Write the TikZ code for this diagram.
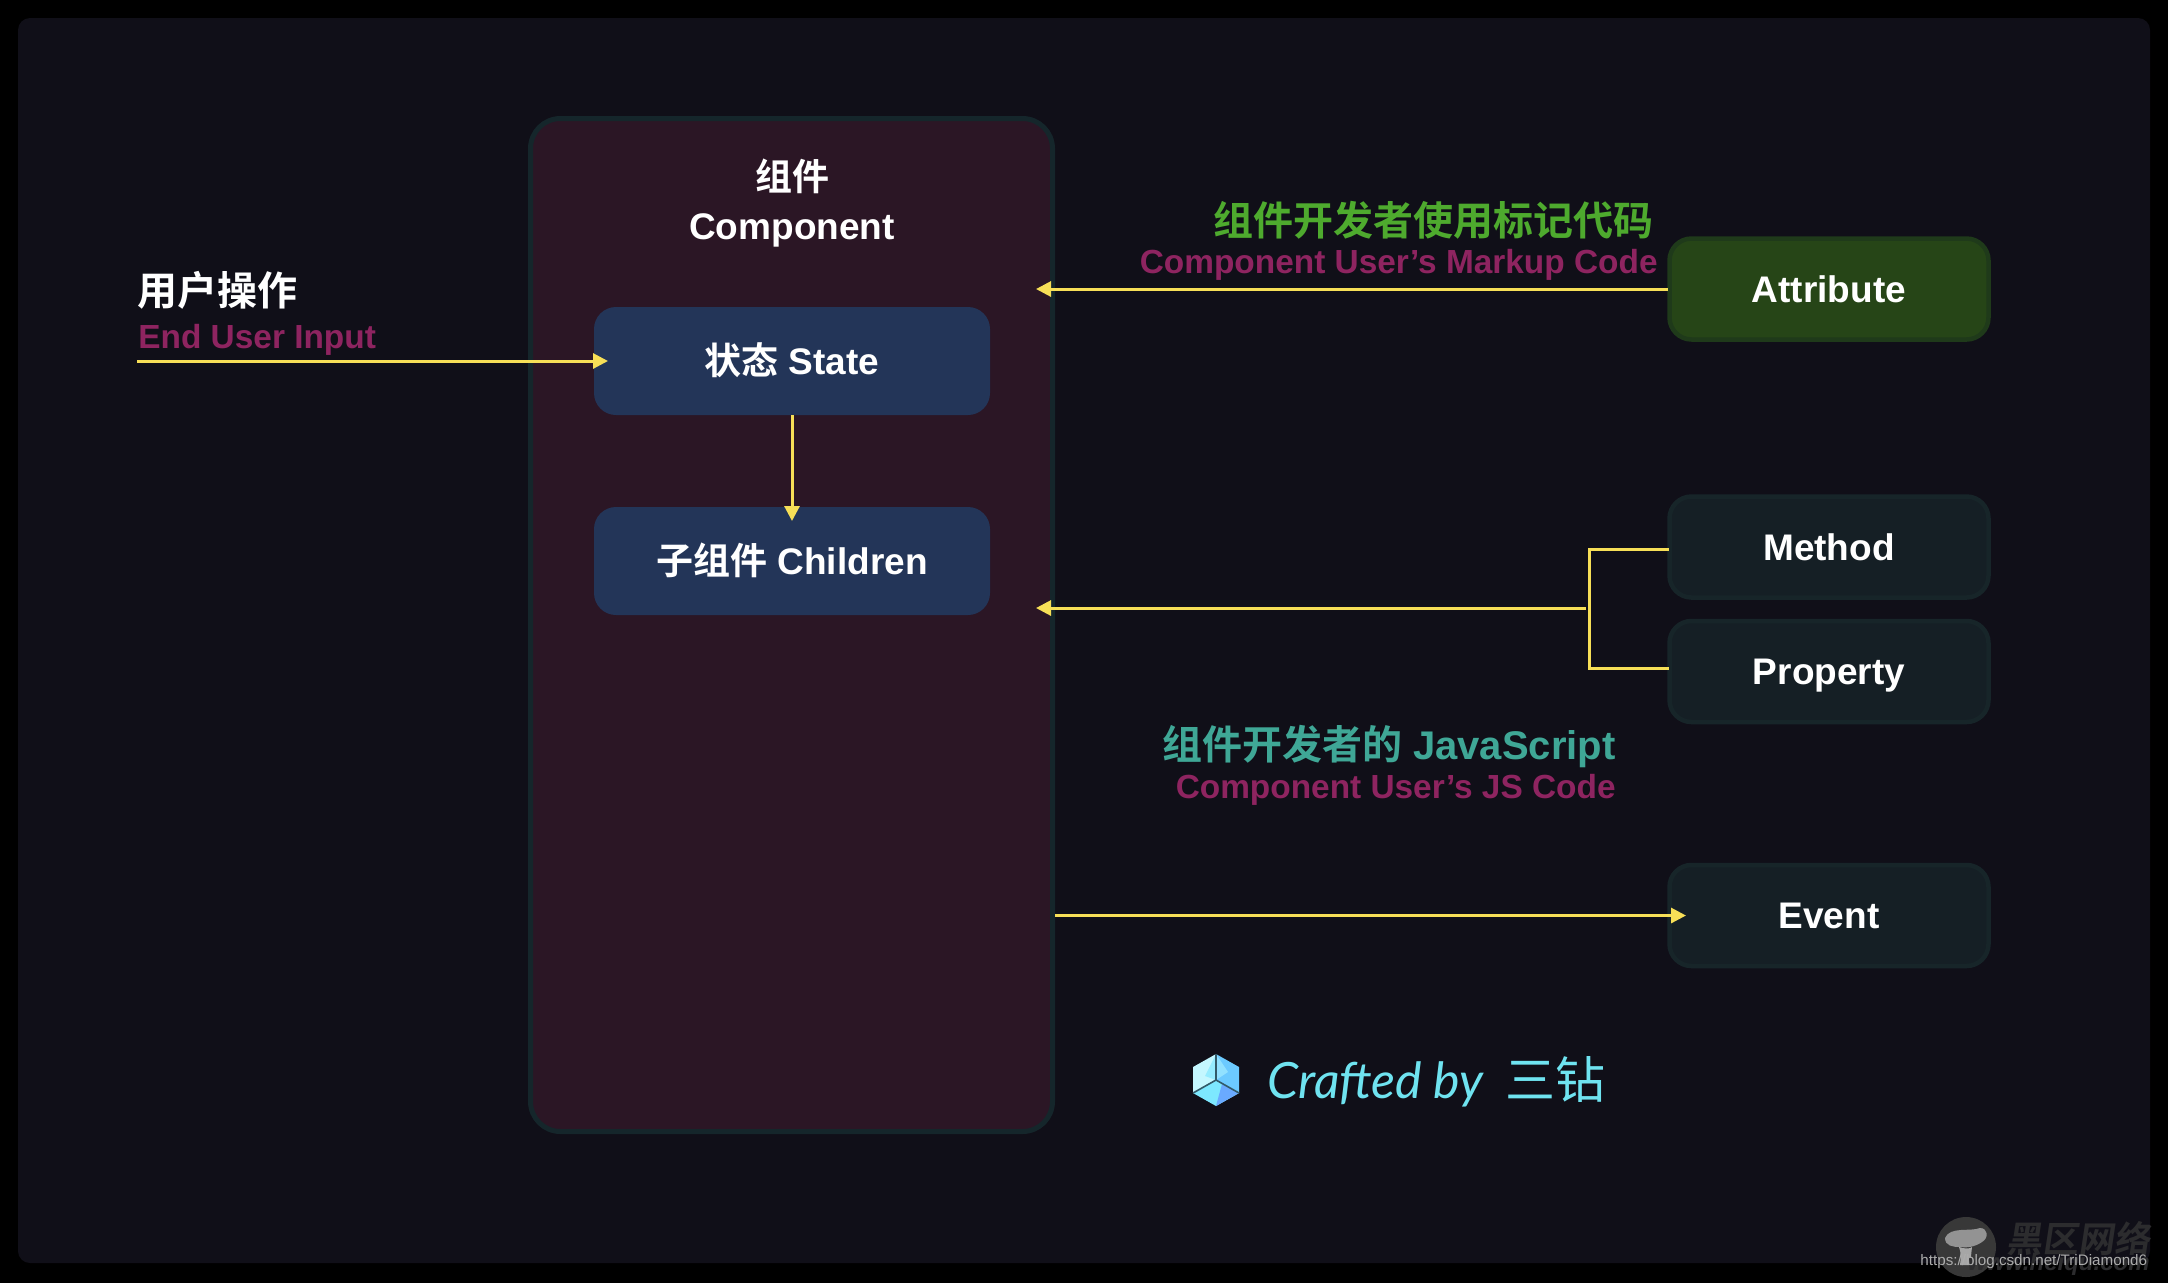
\documentclass[tikz,border=0pt]{standalone}
\usepackage{fontspec}
\setmainfont{Liberation Sans}
\newfontfamily\cjk{Noto Sans CJK SC}[BoldFont={Noto Sans CJK SC Bold}]
\newfontfamily\hand{Lato}
\usetikzlibrary{arrows.meta}
\definecolor{pagebg}{HTML}{000000}
\definecolor{panelbg}{HTML}{100F18}
\definecolor{compfill}{HTML}{2B1625}
\definecolor{compline}{HTML}{15262B}
\definecolor{bluefill}{HTML}{233558}
\definecolor{darkfill}{HTML}{151F25}
\definecolor{darkline}{HTML}{172529}
\definecolor{greenfill}{HTML}{264517}
\definecolor{greenline}{HTML}{1F3A1A}
\definecolor{wire}{HTML}{F7DF57}
\definecolor{crimson}{HTML}{8E2460}
\definecolor{leaf}{HTML}{4EAA2E}
\definecolor{teal2}{HTML}{3FA796}
\definecolor{sky}{HTML}{6FE3F0}
\definecolor{wmdark}{HTML}{2C2C2E}
\tikzset{
  wirearrow/.style={draw=wire,line width=1.5pt,-{Triangle[length=7.5pt,width=7.5pt]}},
  wireline/.style={draw=wire,line width=1.5pt},
  sidebox/.style={rounded corners=11pt,line width=2.25pt,draw=darkline,fill=darkfill,
    minimum width=159.5pt,minimum height=50.5pt,inner sep=0pt,text=white,text height=13.3pt,text depth=0pt,
    font=\fontsize{18.5}{22}\selectfont\bfseries},
  innerbox/.style={rounded corners=11pt,draw=none,fill=bluefill,minimum width=198pt,minimum height=54pt,
    inner sep=0pt,text=white,text height=13.3pt,text depth=0pt,font=\fontsize{18.5}{22}\selectfont\bfseries},
  title/.style={inner sep=0pt,text=white,font=\bfseries},
  crim/.style={inner sep=0pt,text=crimson,font=\fontsize{16.7}{21}\selectfont\bfseries},
}
\begin{document}
\begin{tikzpicture}[x=0.5pt,y=-0.5pt]
\useasboundingbox (0,0) rectangle (2168,1282);
\fill[pagebg] (-10,-10) rectangle (2178,1292);
\fill[panelbg,rounded corners=6pt] (18,18) rectangle (2150,1263);
% main box
\node[rounded corners=15pt,line width=2.5pt,draw=compline,fill=compfill,minimum width=261pt,minimum height=506.5pt,inner sep=0pt] (comp) at (791.5,625) {};
\node[title,align=center,font=\fontsize{18.5}{24.5}\selectfont\bfseries] (comptitle) at (792,203) {{\cjk 组件}\\[0pt]Component};
\node[innerbox] (state) at (792,361) {{\cjk 状态} State};
\node[innerbox] (kids) at (792,561) {{\cjk 子组件} Children};
\node[sidebox,draw=greenline,fill=greenfill] (attr) at (1829,289) {Attribute};
\node[sidebox] (method) at (1829,547) {Method};
\node[sidebox] (prop) at (1829,671.5) {Property};
\node[sidebox] (event) at (1829,915.5) {Event};
% labels
\node[title,anchor=west,font=\fontsize{20}{24}\selectfont\bfseries\cjk] (userzh) at (137,290) {用户操作};
\node[crim,anchor=west] (useren) at (138,340) {End User Input};
\node[inner sep=0pt,anchor=east,text=leaf,font=\fontsize{20}{24}\selectfont\bfseries\cjk] (markupzh) at (1654,220) {组件开发者使用标记代码};
\node[crim,anchor=east] (markupen) at (1658,265) {Component User’s Markup Code};
\node[inner sep=0pt,anchor=east,text=teal2,font=\fontsize{20}{24}\selectfont\bfseries] (jszh) at (1616,746) {{\cjk 组件开发者的} JavaScript};
\node[crim,anchor=east] (jsen) at (1616,790) {Component User’s JS Code};
% connectors
\coordinate (userstart) at (137,361);
\coordinate (attrtip) at (1036,289);
\coordinate (attrout) at (1668,289);
\coordinate (jstip) at (1036,608);
\coordinate (jsjoin) at (1586,608);
\coordinate (bracktop) at (1589,549);
\coordinate (brackbot) at (1589,668);
\coordinate (methodin) at (1667,549);
\coordinate (propin) at (1667,668);
\coordinate (eventout) at (1055,915.5);
\coordinate (eventtip) at (1686,915.5);
\coordinate (statetip) at (608,361);
\coordinate (kidstip) at (792,521);
\draw[wirearrow] (userstart) -- (statetip);
\draw[wirearrow] (state.south) -- (kidstip);
\draw[wirearrow] (attrout) -- (attrtip);
\draw[wirearrow] (jsjoin) -- (jstip);
\draw[wireline,line cap=rect] (methodin) -- (bracktop) -- (brackbot) -- (propin);
\draw[wirearrow] (eventout) -- (eventtip);
% logo
\fill[fill={rgb,255:red,196;green,247;blue,255}] (1216,1054) -- (1216,1080) -- (1193,1093) -- (1193,1067) -- cycle;
\fill[fill={rgb,255:red,150;green,236;blue,255}] (1216,1054) -- (1216,1080) -- (1205,1076) -- cycle;
\fill[fill={rgb,255:red,108;green,202;blue,255}] (1216,1054) -- (1239,1067) -- (1239,1093) -- (1216,1080) -- cycle;
\fill[fill={rgb,255:red,145;green,225;blue,255}] (1216,1054) -- (1228,1072) -- (1216,1080) -- cycle;
\fill[fill={rgb,255:red,125;green,232;blue,255}] (1216,1080) -- (1239,1093) -- (1216,1106) -- (1193,1093) -- cycle;
\fill[fill={rgb,255:red,106;green,170;blue,255}] (1216,1106) -- (1239,1093) -- (1222,1084) -- cycle;
\draw[draw={rgb,255:red,50;green,90;blue,105},line width=0.8pt] (1216,1054) -- (1216,1080) (1193,1093) -- (1216,1080) -- (1239,1093);
\node[inner sep=0pt,anchor=west,text=sky,font=\fontsize{25}{28}\selectfont] (craft) at (1267,1082) {{\hand\itshape Crafted by}\hspace{11pt}{\cjk 三钻}};
% watermark
\fill[black!78!white] (1966,1247) circle (15pt);
\fill[gray!85!white] (1945,1238) .. controls (1950,1226) and (1970,1232) .. (1980,1228) .. controls (1988,1228) and (1989,1238) .. (1982,1242) .. controls (1975,1247) and (1966,1248) .. (1960,1247) .. controls (1953,1247) and (1945,1246) .. (1945,1238) -- cycle;
\fill[gray!70!white] (1959,1247) .. controls (1965,1249) and (1970,1249) .. (1972,1247) .. controls (1971,1254) and (1971,1260) .. (1970,1265) -- (1960,1265) .. controls (1961,1258) and (1961,1252) .. (1959,1247) -- cycle;
\node[inner sep=0pt,anchor=west,text=wmdark,xslant=0.15,font=\fontsize{18}{22}\selectfont\bfseries\cjk] (wmzh) at (2008,1239) {黑区网络};
\node[inner sep=0pt,anchor=east,text=wmdark,font=\fontsize{12}{14}\selectfont\bfseries\itshape] (wmurl) at (2150,1264) {www.heiqu.com};
\node[inner sep=0pt,anchor=west,text=gray!65!white,font=\fontsize{7.6}{9}\selectfont] (wmcsdn) at (1920,1262) {https://blog.csdn.net/TriDiamond6};
\end{tikzpicture}
\end{document}
